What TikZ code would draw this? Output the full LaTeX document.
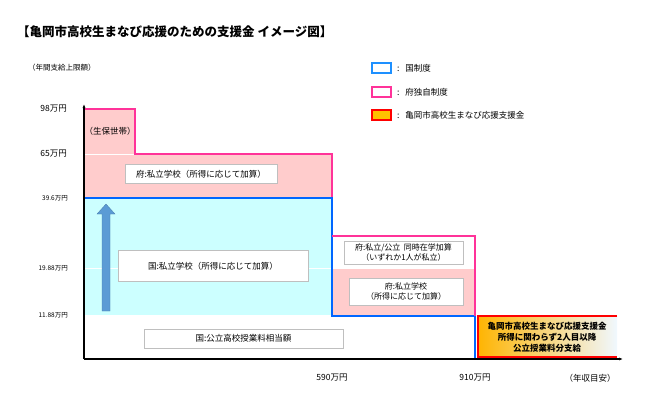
\documentclass[tikz,border=0pt]{standalone}
\usepackage{fontspec}
\setmainfont{Noto Sans CJK JP}
\usetikzlibrary{arrows.meta}
\definecolor{pk}{RGB}{255,51,153}
\definecolor{pkf}{RGB}{255,204,204}
\definecolor{bl}{RGB}{0,102,255}
\definecolor{cy}{RGB}{204,255,255}
\definecolor{ar}{RGB}{91,155,213}
\tikzset{
 lbl/.style={draw=black!25,fill=white,font=\fontsize{8.5}{10}\selectfont,align=center,inner sep=2pt},
 ax/.style={font=\fontsize{8.5}{10}\selectfont,anchor=east,inner sep=1pt},
 yl/.style={font=\fontsize{6.5}{7}\selectfont,anchor=east,inner sep=1pt},
 lg/.style={font=\fontsize{8.5}{10}\selectfont,anchor=west,inner sep=0pt}
}
\begin{document}
\begin{tikzpicture}[x=1pt,y=-1pt]
\useasboundingbox (0,0) rectangle (650,405);
% fills
\fill[pkf] (84,109) rectangle (135,154);
\fill[pkf] (84,154) rectangle (332,198);
\fill[cy] (84,198) rectangle (332,315);
\fill[pkf] (332,268) rectangle (475,316);
\shade[left color={rgb,255:red,255;green,180;blue,0},right color={rgb,255:red,240;green,248;blue,255}] (477,316) rectangle (617,357);
\draw[white,line width=0.8pt] (84,154) -- (135,154);
\draw[white,line width=0.8pt] (84,268) -- (475,268);
% outlines
\draw[pk,line width=1.8pt] (84,109) -- (135,109) -- (135,154) -- (332,154) -- (332,198);
\draw[bl,line width=1.8pt] (84,198) -- (332,198) -- (332,316) -- (475,316) -- (475,359);
\draw[pk,line width=1.5pt] (332,236) -- (475,236) -- (475,316);
\draw[red,line width=1.8pt] (617,316) -- (478,316) -- (478,357) -- (617,357);
% arrow
\fill[ar,draw=ar!80!black,line width=0.3pt] (102,311) -- (102,214) -- (97,214) -- (106,204) -- (115,214) -- (110,214) -- (110,311) -- cycle;
% axes
\coordinate (o) at (84,359);
\coordinate (yt) at (84,104);
\coordinate (xr) at (623,359);
\draw[line width=1.3pt,-{Latex[length=4pt,width=3pt]}] (o) -- (yt);
\draw[line width=1.3pt,-{Latex[length=4pt,width=3pt]}] (o) -- (xr);
% y labels
\node[ax] (l98) at (68,109) {98万円};
\node[ax] (l65) at (68,154) {65万円};
\node[yl] (l39) at (69,198) {39.6万円};
\node[yl] (l19) at (69,268) {19.88万円};
\node[yl] (l11) at (69,315) {11.88万円};
\node[font=\fontsize{7.5}{8}\selectfont,anchor=west,inner sep=0pt] (unit) at (28,68) {（年間支給上限額）};
% x labels
\node[font=\fontsize{8.5}{10}\selectfont] (x590) at (332,378) {590万円};
\node[font=\fontsize{8.5}{10}\selectfont] (x910) at (475,378) {910万円};
\node[font=\fontsize{8.5}{10}\selectfont] (xu) at (590,378) {（年収目安）};
% boxes
\node[font=\fontsize{8.5}{10}\selectfont] (seiho) at (110,131) {（生保世帯）};
\node[lbl,minimum width=152pt,minimum height=19pt] (b1) at (201,174) {府:私立学校（所得に応じて加算）};
\node[lbl,minimum width=190pt,minimum height=31pt] (b2) at (213,266) {国:私立学校（所得に応じて加算）};
\node[lbl,minimum width=119pt,minimum height=23pt,inner sep=1pt,font=\fontsize{8}{9.5}\selectfont] (b3) at (403.5,252.5) {府:私立/公立\ \ 同時在学加算\\（いずれか1人が私立）};
\node[lbl,minimum width=114pt,minimum height=27pt,inner sep=1pt,font=\fontsize{8}{9.5}\selectfont] (b4) at (406,291.5) {府:私立学校\\（所得に応じて加算）};
\node[lbl,minimum width=199pt,minimum height=19pt] (b5) at (243.5,338.5) {国:公立高校授業料相当額};
\node[font=\fontsize{8.5}{11}\selectfont\bfseries,align=center] (b6) at (547,337) {亀岡市高校生まなび応援支援金\\所得に関わらず2人目以降\\公立授業料分支給};
% title
\node[font=\fontsize{12.5}{14}\selectfont\bfseries,anchor=west,inner sep=0pt] (title) at (17,32) {【亀岡市高校生まなび応援のための支援金 イメージ図】};
% legend
\draw[draw={rgb,255:red,30;green,144;blue,255},line width=1.8pt,fill=white] (372,63) rectangle (391,73);
\draw[pk,line width=1.8pt,fill=white] (372,87) rectangle (391,97);
\draw[red,line width=1.8pt,fill={rgb,255:red,255;green,192;blue,0}] (372,110) rectangle (391,120);
\node[lg] (g1) at (397,68) {:\ \ \ 国制度};
\node[lg] (g2) at (397,92) {:\ \ \ 府独自制度};
\node[lg] (g3) at (397,115) {:\ \ \ 亀岡市高校生まなび応援支援金};
\end{tikzpicture}
\end{document}
